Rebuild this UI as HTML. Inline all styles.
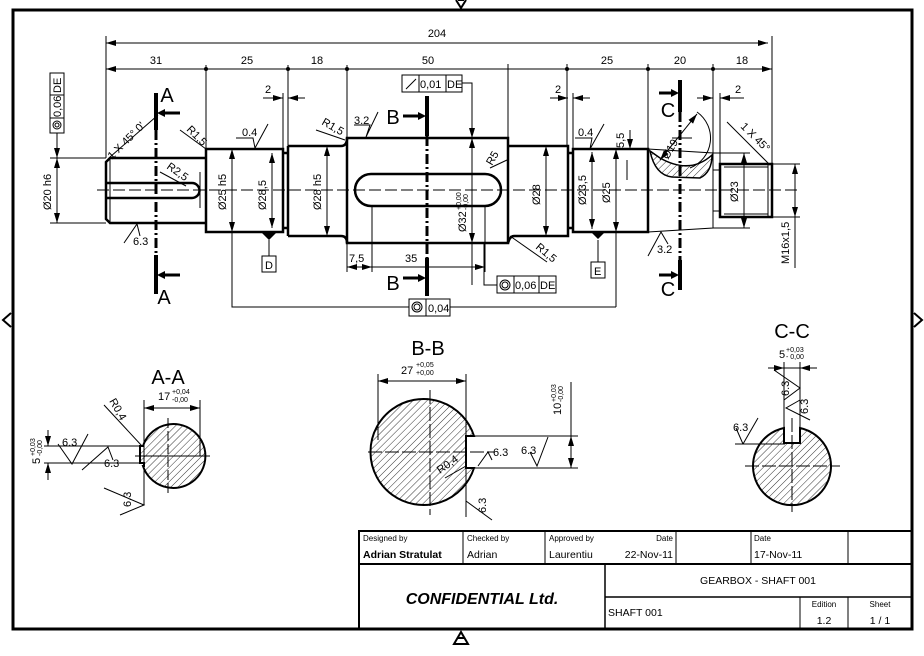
<!DOCTYPE html>
<html><head><meta charset="utf-8"><style>
html,body{margin:0;padding:0;background:#fff}
svg{display:block}
text{font-family:"Liberation Sans",sans-serif;fill:#000}
</style></head><body>
<svg width="924" height="656" viewBox="0 0 924 656" xmlns="http://www.w3.org/2000/svg">
<defs>
<pattern id="h" patternUnits="userSpaceOnUse" width="5" height="5" patternTransform="rotate(45)">
<line x1="0" y1="0" x2="0" y2="5" stroke="#000" stroke-width="0.8"/></pattern>
<marker id="a" viewBox="0 0 10 6" refX="10" refY="3" markerWidth="10" markerHeight="6" orient="auto-start-reverse" markerUnits="userSpaceOnUse"><path d="M0,0L10,3L0,6z" fill="#000"/></marker>
</defs>
<rect width="924" height="656" fill="#fff"/>
<rect x="13" y="10" width="899" height="619" fill="none" stroke="#000" stroke-width="3"/>
<path d="M456,0 L461,8 L466,0 M458,0h6" stroke="#000" stroke-width="2" fill="none"/>
<path d="M454,644 L461,632 L468,644 Z M458,638h6" stroke="#000" stroke-width="2" fill="none"/>
<path d="M11,313 L3,320 L11,327" stroke="#000" stroke-width="2" fill="none"/>
<path d="M914,313 L922,320 L914,327" stroke="#000" stroke-width="2" fill="none"/>

<g stroke="#000" fill="none" stroke-width="1">
<line x1="106" y1="36" x2="106" y2="158"/>
<line x1="772" y1="36" x2="772" y2="164"/>
<line x1="106" y1="43" x2="768" y2="43" marker-start="url(#a)" marker-end="url(#a)"/>
<line x1="106" y1="69" x2="772" y2="69" marker-start="url(#a)" marker-end="url(#a)"/>
<line x1="206" y1="65" x2="206" y2="149"/>
<line x1="288" y1="65" x2="288" y2="146"/>
<line x1="347" y1="65" x2="347" y2="138"/>
<line x1="508" y1="64" x2="508" y2="138"/>
<line x1="567" y1="64" x2="567" y2="146"/>
<line x1="648" y1="64" x2="648" y2="149"/>
<line x1="713" y1="64" x2="713" y2="153"/>
<line x1="263" y1="98" x2="283" y2="98" marker-end="url(#a)"/><line x1="305" y1="98" x2="288" y2="98" marker-end="url(#a)"/>
<line x1="283" y1="93" x2="283" y2="149"/>
<line x1="550" y1="98" x2="568" y2="98" marker-end="url(#a)"/><line x1="590" y1="98" x2="573" y2="98" marker-end="url(#a)"/>
<line x1="573" y1="93" x2="573" y2="149"/>
<line x1="697" y1="98" x2="713" y2="98" marker-end="url(#a)"/><line x1="744" y1="98" x2="720" y2="98" marker-end="url(#a)"/>
<line x1="720" y1="93" x2="720" y2="164"/>
</g>
<g font-size="11" text-anchor="middle">
<text x="437" y="37">204</text>
<text x="156" y="64">31</text><text x="247" y="64">25</text><text x="317" y="64">18</text><text x="428" y="64">50</text>
<text x="607" y="64">25</text><text x="680" y="64">20</text><text x="742" y="64">18</text>
<text x="268" y="93">2</text><text x="558" y="93">2</text><text x="738" y="93">2</text>
</g>
<g fill="#000"><circle cx="206" cy="69" r="2"/><circle cx="288" cy="69" r="2"/><circle cx="347" cy="69" r="2"/><circle cx="567" cy="69" r="2"/><circle cx="648" cy="69" r="2"/><circle cx="713" cy="69" r="2"/></g>

<line x1="97" y1="190" x2="800" y2="190" stroke="#000" stroke-width="1" stroke-dasharray="12,4"/>

<g stroke="#000" stroke-width="2.5" fill="none">
<path d="M206,158 H110 L106,162 V219 L110,223 H206"/>
<rect x="206" y="149" width="77" height="83"/>
<path d="M283,153 H288 M283,228 H288"/>
<path d="M288,146 V236 M288,146 H341 Q347,146 347,138 M288,236 H341 Q347,236 347,243"/>
<rect x="347" y="138" width="161" height="105"/>
<path d="M508,146 Q512,146 514,146 H568 V236 H514 Q510,236 508,243"/>
<path d="M568,153 H573 M568,228 H573"/>
<rect x="573" y="149" width="75" height="83"/>
<rect x="720" y="164" width="52" height="53"/>
<path d="M106,183 H192 A7.5,7.5 0 0 1 192,198 H106"/>
<path d="M371,174 H485 A16,16 0 0 1 485,206 H371 A16,16 0 0 1 371,174 Z"/>
</g>
<g stroke="#000" stroke-width="1" fill="none">
<line x1="110" y1="158" x2="110" y2="223"/>
<path d="M648,149 L713,153 V228 L648,232"/>
<path d="M713,170 H720 M713,211 H720"/>
<path d="M724,167 H768 M724,214 H768 M768,164 V217"/>
<line x1="200" y1="172" x2="200" y2="208"/>
</g>
<path d="M650,151 Q655,175 672,177 L700,178 Q712,172 712,155 Q690,175 660,158 Z" fill="url(#h)" stroke="#000" stroke-width="1.5"/>
<path d="M697,112 A32,32 0 0 1 690,168" fill="none" stroke="#000" stroke-width="1"/>
<line x1="697" y1="114" x2="660" y2="160" stroke="#000" stroke-width="1" marker-start="url(#a)" marker-end="url(#a)"/>
<line x1="672" y1="138" x2="692" y2="138" stroke="#000" stroke-width="1"/>

<g stroke="#000" stroke-width="4"><line x1="156" y1="93" x2="156" y2="130"/><line x1="156" y1="255" x2="156" y2="294"/>
<line x1="427" y1="96" x2="427" y2="136"/><line x1="427" y1="258" x2="427" y2="296"/>
<line x1="680" y1="80" x2="680" y2="112"/><line x1="680" y1="260" x2="680" y2="290"/></g>
<g stroke="#000" stroke-width="3" stroke-dasharray="10,3,2,3">
<line x1="156" y1="130" x2="156" y2="255"/><line x1="427" y1="136" x2="427" y2="258"/><line x1="680" y1="112" x2="680" y2="260"/></g>
<g stroke="#000" stroke-width="3"><line x1="180" y1="113" x2="163" y2="113"/><line x1="180" y1="275" x2="163" y2="275"/>
<line x1="403" y1="116" x2="420" y2="116"/><line x1="403" y1="278" x2="420" y2="278"/>
<line x1="659" y1="93" x2="673" y2="93"/><line x1="659" y1="275" x2="673" y2="275"/></g>
<g fill="#000"><path d="M157,113 l8,-4 v8z"/><path d="M157,275 l8,-4 v8z"/><path d="M426,116 l-8,-4 v8z"/><path d="M426,278 l-8,-4 v8z"/><path d="M679,93 l-8,-4 v8z"/><path d="M679,275 l-8,-4 v8z"/></g>
<g font-size="20" text-anchor="middle"><text x="167" y="102">A</text><text x="164" y="304">A</text>
<text x="393" y="124">B</text><text x="393" y="290">B</text><text x="668" y="117">C</text><text x="668" y="296">C</text></g>

<g stroke="#000" stroke-width="1" fill="none">
<line x1="50" y1="158" x2="106" y2="158"/><line x1="50" y1="223" x2="106" y2="223"/>
<line x1="57" y1="158" x2="57" y2="223" marker-start="url(#a)" marker-end="url(#a)"/>
<line x1="57" y1="133" x2="57" y2="158" marker-end="url(#a)"/>
<line x1="232" y1="149" x2="232" y2="232" marker-start="url(#a)" marker-end="url(#a)"/>
<line x1="272" y1="153" x2="272" y2="228" marker-start="url(#a)" marker-end="url(#a)"/>
<line x1="327" y1="146" x2="327" y2="236" marker-start="url(#a)" marker-end="url(#a)"/>
<line x1="472" y1="92" x2="472" y2="138" marker-end="url(#a)"/>
<line x1="472" y1="243" x2="472" y2="285"/>
<line x1="472" y1="138" x2="472" y2="243" marker-start="url(#a)" marker-end="url(#a)"/>
<line x1="546" y1="146" x2="546" y2="236" marker-start="url(#a)" marker-end="url(#a)"/>
<line x1="592" y1="152" x2="592" y2="229" marker-start="url(#a)" marker-end="url(#a)"/>
<line x1="616" y1="149" x2="616" y2="307" />
<line x1="616" y1="149" x2="616" y2="232" marker-start="url(#a)" marker-end="url(#a)"/>
<line x1="630" y1="130" x2="630" y2="149" marker-end="url(#a)"/>
<line x1="627" y1="180" x2="627" y2="160"/>
<line x1="744" y1="153" x2="744" y2="228" marker-start="url(#a)" marker-end="url(#a)"/>
<line x1="713" y1="153" x2="750" y2="153"/><line x1="713" y1="228" x2="750" y2="228"/>
<line x1="772" y1="164" x2="800" y2="164"/><line x1="772" y1="217" x2="800" y2="217"/>
<line x1="795" y1="164" x2="795" y2="217" marker-start="url(#a)" marker-end="url(#a)"/>
<line x1="795" y1="217" x2="795" y2="268"/>
<line x1="347" y1="243" x2="347" y2="272"/><line x1="372" y1="206" x2="372" y2="272"/><line x1="485" y1="206" x2="485" y2="272"/>
<line x1="347" y1="267" x2="372" y2="267" marker-start="url(#a)" marker-end="url(#a)"/>
<line x1="372" y1="267" x2="485" y2="267" marker-end="url(#a)"/>
<polyline points="232,232 232,307 409,307"/><polyline points="450,307 616,307"/>
<polyline points="497,285 484,285 484,243"/>
<polyline points="462,83 472,83 472,92"/>
<line x1="269" y1="240" x2="269" y2="256"/><line x1="598" y1="240" x2="598" y2="262"/>
<line x1="110" y1="157" x2="158" y2="115"/>
<line x1="180" y1="130" x2="206" y2="149"/>
<line x1="160" y1="172" x2="186" y2="186"/>
<line x1="316" y1="130" x2="345" y2="140"/>
<line x1="490" y1="168" x2="507" y2="160"/>
<line x1="510" y1="236" x2="547" y2="262"/>
<line x1="727" y1="122" x2="770" y2="165"/>
<path d="M236,138 H253 L255,148 L268,124"/>
<path d="M354,125 H370 L366,137 L378,112"/>
<path d="M575,138 H592 L590,149 L604,124"/>
<path d="M124,243 L137,224 L140,236"/>
<path d="M648,256 L661,232 L668,244"/>
</g>
<path d="M262,233 h14 l-7,7z M591,232 h14 l-7,7z" fill="#000"/>
<g stroke="#000" stroke-width="1" fill="#fff">
<rect x="262" y="256" width="14" height="16"/><rect x="591" y="262" width="14" height="16"/>
<rect x="50" y="73" width="14" height="60"/><line x1="50" y1="95" x2="64" y2="95"/><line x1="50" y1="118" x2="64" y2="118"/>
<rect x="402" y="75" width="60" height="17"/><line x1="419" y1="75" x2="419" y2="92"/><line x1="446" y1="75" x2="446" y2="92"/>
<rect x="409" y="299" width="41" height="17"/><line x1="426" y1="299" x2="426" y2="316"/>
<rect x="497" y="276" width="59" height="17"/><line x1="514" y1="276" x2="514" y2="293"/><line x1="539" y1="276" x2="539" y2="293"/>
<circle cx="57" cy="125" r="4"/><circle cx="57" cy="125" r="2"/>
<circle cx="417" cy="307" r="5"/><circle cx="417" cy="307" r="3"/>
<circle cx="505" cy="285" r="5"/><circle cx="505" cy="285" r="3"/>
<line x1="406" y1="89" x2="416" y2="79"/>
</g>
<g font-size="11">
<text x="265" y="269">D</text><text x="594" y="275">E</text>
<text x="420" y="88">0,01</text><text x="447" y="88">DE</text>
<text x="428" y="312">0,04</text>
<text x="515" y="289">0,06</text><text x="540" y="289">DE</text>
<text transform="translate(61,117) rotate(-90)">0,06</text><text transform="translate(61,93) rotate(-90)">DE</text>
<text transform="translate(51,210) rotate(-90)">Ø20 h6</text>
<text transform="translate(226,210) rotate(-90)">Ø25 h5</text>
<text transform="translate(266,210) rotate(-90)">Ø28,5</text>
<text transform="translate(321,210) rotate(-90)">Ø28 h5</text>
<text transform="translate(466,232) rotate(-90)">Ø32</text>
<text transform="translate(461,210) rotate(-90)" font-size="7">+0,00</text>
<text transform="translate(468,210) rotate(-90)" font-size="7">-0,00</text>
<text transform="translate(540,205) rotate(-90)">Ø28</text>
<text transform="translate(586,205) rotate(-90)">Ø23,5</text>
<text transform="translate(610,203) rotate(-90)">Ø25</text>
<text transform="translate(738,202) rotate(-90)">Ø23</text>
<text transform="translate(789,264) rotate(-90)">M16x1,5</text>
<text transform="translate(624,148) rotate(-90)">5,5</text>
<text transform="translate(668,160) rotate(-60)">Ø19</text>
<text transform="translate(112,160) rotate(-45)">1 X 45° 0'</text>
<text transform="translate(740,127) rotate(45)">1 X 45°</text>
<text transform="translate(186,130) rotate(45)">R1,5</text>
<text transform="translate(166,168) rotate(35)">R2,5</text>
<text transform="translate(321,124) rotate(30)">R1,5</text>
<text transform="translate(492,166) rotate(-60)">R5</text>
<text transform="translate(535,248) rotate(40)">R1,5</text>
<text x="242" y="136">0.4</text><text x="354" y="124">3.2</text><text x="578" y="136">0.4</text>
<text x="133" y="245">6.3</text><text x="657" y="253">3.2</text>
<text x="349" y="262">7,5</text><text x="405" y="262">35</text>
</g>

<text x="168" y="384" font-size="20" text-anchor="middle">A-A</text>
<path d="M143,446 A32,32 0 1 1 143,466 L144,466 V463 L140,463 V446 Z" fill="url(#h)" stroke="#000" stroke-width="2"/>
<g stroke="#000" stroke-width="1" fill="none">
<line x1="135" y1="456" x2="210" y2="456"/><line x1="168" y1="418" x2="168" y2="494" stroke-dasharray="10,3"/>
<line x1="144" y1="400" x2="144" y2="505"/><line x1="200" y1="400" x2="200" y2="456"/>
<line x1="144" y1="408" x2="200" y2="408" marker-start="url(#a)" marker-end="url(#a)"/>
<line x1="44" y1="446" x2="144" y2="446"/><line x1="44" y1="463" x2="144" y2="463"/>
<line x1="48" y1="430" x2="48" y2="446" marker-end="url(#a)"/><line x1="48" y1="480" x2="48" y2="463" marker-end="url(#a)"/>
<line x1="104" y1="405" x2="142" y2="446"/>
<path d="M58,444 L72,464 L88,434"/><path d="M82,470 L108,447 L113,460"/>
<path d="M104,488 L144,505 L120,515"/>
</g>
<g font-size="11"><text x="158" y="400">17</text><text x="172" y="394" font-size="7">+0,04</text><text x="172" y="402" font-size="7">-0,00</text>
<text x="62" y="446">6.3</text><text x="104" y="467">6.3</text>
<text transform="translate(131,507) rotate(-90)">6.3</text>
<text transform="translate(109,401) rotate(60)">R0,4</text>
<text transform="translate(40,464) rotate(-90)">5</text>
<text transform="translate(35,456) rotate(-90)" font-size="7">+0,03</text>
<text transform="translate(42,456) rotate(-90)" font-size="7">-0,00</text></g>

<text x="428" y="355" font-size="20" text-anchor="middle">B-B</text>
<path d="M466,436 L474,436 A53,53 0 1 0 474,468 L466,468 Z" fill="url(#h)" stroke="#000" stroke-width="2"/>
<g stroke="#000" stroke-width="1" fill="none">
<line x1="368" y1="452" x2="495" y2="452" stroke-dasharray="14,3"/><line x1="430" y1="390" x2="430" y2="515" stroke-dasharray="14,3"/>
<line x1="378" y1="374" x2="378" y2="440"/><line x1="466" y1="374" x2="466" y2="436"/>
<line x1="378" y1="381" x2="466" y2="381" marker-start="url(#a)" marker-end="url(#a)"/>
<line x1="474" y1="436" x2="578" y2="436"/><line x1="474" y1="468" x2="578" y2="468"/>
<line x1="571" y1="382" x2="571" y2="436"/><line x1="571" y1="436" x2="571" y2="468" marker-start="url(#a)" marker-end="url(#a)"/>
<line x1="466" y1="468" x2="466" y2="517"/>
<line x1="466" y1="501" x2="492" y2="520"/>
<path d="M478,466 L488,452 L492,460"/><path d="M530,452 L537,466 L548,437"/>
<line x1="445" y1="478" x2="466" y2="466"/>
</g>
<g font-size="11"><text x="401" y="374">27</text><text x="416" y="367" font-size="7">+0,05</text><text x="416" y="375" font-size="7">+0,00</text>
<text x="493" y="456">6.3</text><text x="521" y="454">6.3</text>
<text transform="translate(486,513) rotate(-90)">6.3</text>
<text transform="translate(440,474) rotate(-35)">R0,4</text>
<text transform="translate(561,415) rotate(-90)">10</text>
<text transform="translate(556,402) rotate(-90)" font-size="7">+0,03</text>
<text transform="translate(563,402) rotate(-90)" font-size="7">-0,00</text></g>

<text x="792" y="338" font-size="20" text-anchor="middle">C-C</text>
<path d="M784,428 L784,443 L800,443 L800,428 A39,39 0 1 1 784,428 Z" fill="url(#h)" stroke="#000" stroke-width="2"/>
<g stroke="#000" stroke-width="1" fill="none">
<line x1="745" y1="466" x2="840" y2="466" stroke-dasharray="14,3"/><line x1="792" y1="418" x2="792" y2="512" stroke-dasharray="14,3"/>
<line x1="784" y1="362" x2="784" y2="428"/><line x1="800" y1="362" x2="800" y2="428"/>
<line x1="768" y1="368" x2="784" y2="368" marker-end="url(#a)"/><line x1="817" y1="368" x2="800" y2="368" marker-end="url(#a)"/>
<line x1="784" y1="368" x2="800" y2="368"/>
<path d="M774,370 L800,388 L784,400"/><path d="M810,420 L786,408 L800,400"/>
<path d="M735,444 H785 M743,444 L736,428 M743,444 L758,418"/>
</g>
<g font-size="11"><text x="779" y="358">5</text><text x="786" y="352" font-size="7">+0,03</text><text x="786" y="359" font-size="7">- 0,00</text>
<text transform="translate(789,396) rotate(-90)">6.3</text>
<text transform="translate(808,414) rotate(-90)">6.3</text>
<text x="733" y="431">6.3</text></g>

<g stroke="#000" fill="none">
<rect x="359" y="531" width="553" height="98" stroke-width="2"/>
<line x1="359" y1="564" x2="912" y2="564" stroke-width="2"/>
<line x1="605" y1="597" x2="912" y2="597" stroke-width="1.5"/>
<line x1="605" y1="564" x2="605" y2="629" stroke-width="1.5"/>
<g stroke-width="1"><line x1="463" y1="531" x2="463" y2="564"/><line x1="545" y1="531" x2="545" y2="564"/>
<line x1="676" y1="531" x2="676" y2="564"/><line x1="751" y1="531" x2="751" y2="564"/><line x1="848" y1="531" x2="848" y2="564"/>
<line x1="800" y1="597" x2="800" y2="629"/><line x1="848" y1="597" x2="848" y2="629"/></g>
</g>
<g font-size="8"><text x="363" y="541">Designed by</text><text x="467" y="541">Checked by</text><text x="549" y="541">Approved by</text>
<text x="673" y="541" text-anchor="end">Date</text><text x="754" y="541">Date</text></g>
<g font-size="10.5"><text x="363" y="558" font-weight="bold">Adrian Stratulat</text><text x="467" y="558">Adrian</text>
<text x="549" y="558">Laurentiu</text><text x="673" y="558" text-anchor="end">22-Nov-11</text><text x="754" y="558">17-Nov-11</text>
<text x="758" y="584" text-anchor="middle">GEARBOX - SHAFT 001</text>
<text x="608" y="616">SHAFT 001</text>
<text x="824" y="624" text-anchor="middle">1.2</text><text x="880" y="624" text-anchor="middle">1 / 1</text></g>
<g font-size="8" text-anchor="middle"><text x="824" y="607">Edition</text><text x="880" y="607">Sheet</text></g>
<text x="482" y="604" font-size="16" font-style="italic" font-weight="bold" text-anchor="middle">CONFIDENTIAL Ltd.</text>
</svg>
</body></html>
